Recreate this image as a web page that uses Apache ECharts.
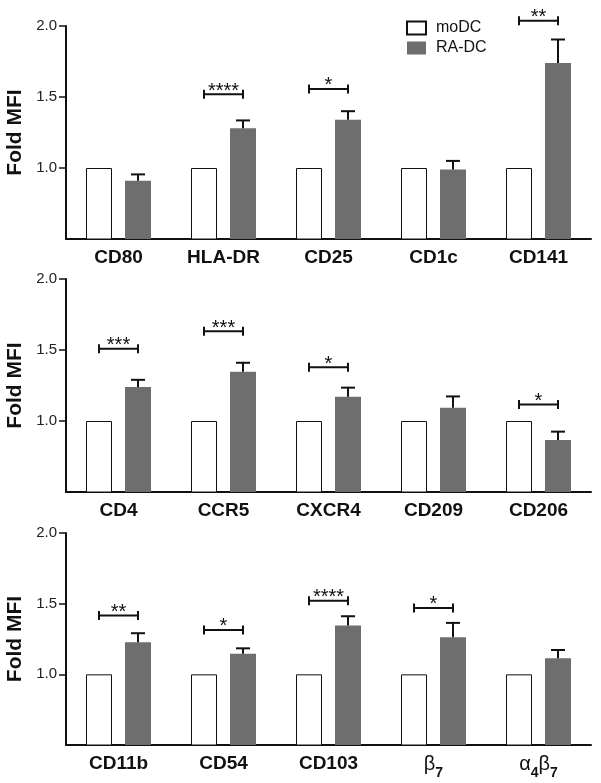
<!DOCTYPE html>
<html>
<head>
<meta charset="utf-8">
<script src="https://cdn.jsdelivr.net/npm/echarts@6/dist/echarts.min.js"></script>
<style>
html,body{margin:0;padding:0;background:#fff;}
#chart{width:601px;height:783px;}
</style>
</head>
<body>
<div id="chart"></div>
<script>
// ---- data ----
const categories1 = ['CD80', 'HLA-DR', 'CD25', 'CD1c', 'CD141'];
const moDC1 = [1, 1, 1, 1, 1];
const raDC1 = [0.91, 1.28, 1.34, 0.99, 1.74];
const raDCErr1 = [0.045, 0.055, 0.06, 0.06, 0.165];
const sig1 = ['', '****', '*', '', '**'];
const sigLevel1 = [null, 1.52, 1.557, null, 2.037];

const categories2 = ['CD4', 'CCR5', 'CXCR4', 'CD209', 'CD206'];
const moDC2 = [1, 1, 1, 1, 1];
const raDC2 = [1.24, 1.347, 1.171, 1.094, 0.867];
const raDCErr2 = [0.05, 0.063, 0.064, 0.079, 0.058];
const sig2 = ['***', '***', '*', '', '*'];
const sigLevel2 = [1.508, 1.632, 1.379, null, 1.117];

const categories3 = ['CD11b', 'CD54', 'CD103', 'β7', 'α4β7'];
const moDC3 = [1, 1, 1, 1, 1];
const raDC3 = [1.227, 1.146, 1.345, 1.262, 1.113];
const raDCErr3 = [0.064, 0.038, 0.066, 0.102, 0.059];
const sig3 = ['**', '*', '****', '*', ''];
const sigLevel3 = [1.416, 1.314, 1.52, 1.47, null];

const yTicks = [1.0, 1.5, 2.0];
const yMin = 0.5, yMax = 2.0, yStep = 0.5;

// ---- style ----
const FONT = "'Liberation Sans', Arial, Helvetica, sans-serif";
const INK = '#111111';
const GRAY = '#6e6e6e';
const BAR_W = 26;
const OFFSET_FRAC = 19.5 / 105; // bar centre offset relative to band width

const panels = [
  {cats: categories1, mo: moDC1, ra: raDC1, err: raDCErr1, sig: sig1, lvl: sigLevel1, top: 26, height: 213},
  {cats: categories2, mo: moDC2, ra: raDC2, err: raDCErr2, sig: sig2, lvl: sigLevel2, top: 279, height: 213},
  {cats: categories3, mo: moDC3, ra: raDC3, err: raDCErr3, sig: sig3, lvl: sigLevel3, top: 533, height: 212}
];

function catFormatter(v) {
  if (/[α-ω]/.test(v)) {
    let out = '';
    for (const ch of v) {
      if (/\d/.test(ch)) out += '{s|' + ch + '}';
      else out += '{g|' + ch + '}';
    }
    return out;
  }
  return v;
}

const grid = [], xAxis = [], yAxis = [], series = [];
panels.forEach((p, i) => {
  grid.push({left: 66, width: 525, top: p.top, height: p.height, containLabel: false, outerBoundsMode: 'none'});
  xAxis.push({
    type: 'category', gridIndex: i, data: p.cats,
    axisLine: {lineStyle: {color: INK, width: 2}},
    axisTick: {show: false},
    axisLabel: {
      interval: 0, hideOverlap: false,
      margin: 9, color: INK, fontFamily: FONT, fontSize: 19, fontWeight: 'bold',
      formatter: catFormatter,
      rich: {
        g: {fontFamily: FONT, fontSize: 20, fontWeight: 'normal', color: INK, lineHeight: 20, verticalAlign: 'top'},
        s: {fontFamily: FONT, fontSize: 14, fontWeight: 'bold', color: INK, lineHeight: 26, verticalAlign: 'bottom'}
      }
    }
  });
  yAxis.push({
    type: 'value', gridIndex: i, min: yMin, max: yMax, interval: yStep,
    name: 'Fold MFI', nameLocation: 'middle', nameGap: 37,
    nameTextStyle: {fontFamily: FONT, fontSize: 21, fontWeight: 'bold', color: INK},
    axisLine: {show: true, lineStyle: {color: INK, width: 2}},
    axisTick: {show: true, length: 7, lineStyle: {color: INK, width: 1.5},
      customValues: yTicks},
    splitLine: {show: false},
    axisLabel: {
      margin: 9, color: '#222', fontFamily: FONT, fontSize: 15,
      customValues: yTicks,
      formatter: v => yTicks.some(t => Math.abs(t - v) < 1e-9) ? v.toFixed(1) : ''
    }
  });
  series.push({
    name: 'moDC', type: 'bar', xAxisIndex: i, yAxisIndex: i, data: p.mo,
    barWidth: BAR_W, barGap: '50%',
    itemStyle: {color: '#ffffff', borderColor: INK, borderWidth: 1},
    emphasis: {disabled: true}, z: 2
  });
  series.push({
    name: 'RA-DC', type: 'bar', xAxisIndex: i, yAxisIndex: i, data: p.ra,
    barWidth: BAR_W, barGap: '50%',
    itemStyle: {color: GRAY, borderColor: GRAY, borderWidth: 0},
    emphasis: {disabled: true}, z: 2
  });
  // error bars (upper SEM)
  series.push({
    type: 'custom', xAxisIndex: i, yAxisIndex: i, z: 3, silent: true,
    data: p.ra.map((v, k) => [k, v, v + p.err[k]]),
    renderItem: function (params, api) {
      const k = api.value(0);
      const a = api.coord([k, api.value(1)]);
      const b = api.coord([k, api.value(2)]);
      const band = api.size([1, 0])[0];
      const x = a[0] + band * OFFSET_FRAC;
      return {
        type: 'group',
        children: [
          {type: 'line', shape: {x1: x, y1: a[1], x2: x, y2: b[1]}, style: {stroke: INK, lineWidth: 2}},
          {type: 'line', shape: {x1: x - 7, y1: b[1], x2: x + 7, y2: b[1]}, style: {stroke: INK, lineWidth: 2}}
        ]
      };
    }
  });
  // significance brackets
  const sigData = [];
  p.sig.forEach((s, k) => { if (s) sigData.push([k, p.lvl[k], s]); });
  series.push({
    type: 'custom', xAxisIndex: i, yAxisIndex: i, z: 3, silent: true, clip: false,
    data: sigData,
    renderItem: function (params, api) {
      const k = api.value(0);
      const c = api.coord([k, api.value(1)]);
      const band = api.size([1, 0])[0];
      const x1 = c[0] - band * OFFSET_FRAC, x2 = c[0] + band * OFFSET_FRAC, y = c[1];
      const label = sigData[params.dataIndex][2];
      return {
        type: 'group',
        children: [
          {type: 'line', shape: {x1: x1, y1: y, x2: x2, y2: y}, style: {stroke: INK, lineWidth: 2}},
          {type: 'line', shape: {x1: x1, y1: y - 4.5, x2: x1, y2: y + 4.5}, style: {stroke: INK, lineWidth: 2}},
          {type: 'line', shape: {x1: x2, y1: y - 4.5, x2: x2, y2: y + 4.5}, style: {stroke: INK, lineWidth: 2}},
          {type: 'text', style: {text: label, x: (x1 + x2) / 2, y: y - 3, align: 'center', verticalAlign: 'middle',
            fontFamily: FONT, fontSize: 20, fill: INK}}
        ]
      };
    }
  });
});

const option = {
  backgroundColor: '#ffffff',
  animation: false,
  textStyle: {fontFamily: FONT},
  legend: {
    data: ['moDC', 'RA-DC'], orient: 'vertical', left: 401, top: 15,
    itemWidth: 19, itemHeight: 13, itemGap: 4, icon: 'rect',
    selectedMode: false,
    textStyle: {fontFamily: FONT, fontSize: 16, color: INK, padding: [0, 0, 0, 5]}
  },
  grid: grid, xAxis: xAxis, yAxis: yAxis, series: series
};

const chart = echarts.init(document.getElementById('chart'), null, {renderer: 'canvas'});
chart.setOption(option);
</script>
</body>
</html>
